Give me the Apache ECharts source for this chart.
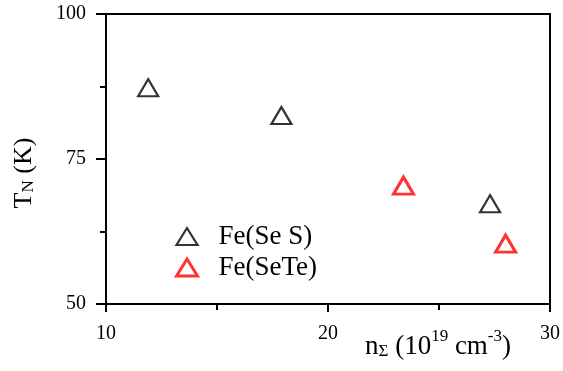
<!DOCTYPE html>
<html>
<head>
<meta charset="utf-8">
<script src="https://cdn.jsdelivr.net/npm/echarts@6/dist/echarts.min.js"></script>
<style>
  html, body { margin: 0; padding: 0; background: #fff; }
  #chart { width: 563px; height: 371px; }
</style>
</head>
<body>
<div id="chart"></div>
<script>
// Néel temperature versus carrier density
const seriesNames = ['Fe(Se S)', 'Fe(SeTe)'];
const feSeS_n = [11.9, 17.9, 27.3];
const feSeS_T = [87.3, 82.5, 67.3];
const feSeTe_n = [23.4, 28.0];
const feSeTe_T = [70.4, 60.4];
const xTicks = [10, 20, 30];
const yTicks = [50, 75, 100];

const font = 'Liberation Serif, Times New Roman, serif';
const ink = '#000';
const chart = echarts.init(document.getElementById('chart'));

function pairs(xs, ys) { return xs.map((x, i) => [x, ys[i]]); }

chart.setOption({
  animation: false,
  backgroundColor: '#fff',
  grid: {
    left: 106, right: 11, top: 14, bottom: 67,
    show: true, borderColor: ink, borderWidth: 2
  },
  legend: {
    orient: 'vertical',
    left: 170, top: 218,
    itemWidth: 21, itemHeight: 17,
    itemGap: 4,
    textStyle: { fontFamily: font, fontSize: 27, lineHeight: 27, color: ink, padding: [0, 0, 0, 16] },
    data: [
      { name: seriesNames[0], itemStyle: { color: '#fff', borderColor: '#000', borderWidth: 2.2 } },
      { name: seriesNames[1], itemStyle: { color: '#fff', borderColor: '#f00', borderWidth: 3 } }
    ]
  },
  xAxis: {
    type: 'value',
    min: xTicks[0], max: xTicks[xTicks.length - 1], interval: 10,
    axisLine: { show: true, lineStyle: { color: ink, width: 2 } },
    axisTick: { show: true, inside: false, length: 8, lineStyle: { color: ink, width: 2 } },
    minorTick: { show: true, splitNumber: 2, length: 6, lineStyle: { color: ink, width: 2 } },
    splitLine: { show: false },
    axisLabel: { fontFamily: font, fontSize: 20, color: ink, margin: 20 }
  },
  yAxis: {
    type: 'value',
    min: yTicks[0], max: yTicks[yTicks.length - 1], interval: 25,
    axisLine: { show: true, lineStyle: { color: ink, width: 2 } },
    axisTick: { show: true, inside: false, length: 10, lineStyle: { color: ink, width: 2 } },
    minorTick: { show: true, splitNumber: 2, length: 6, lineStyle: { color: ink, width: 2 } },
    splitLine: { show: false },
    axisLabel: { fontFamily: font, fontSize: 20, color: ink, margin: 20 }
  },
  graphic: [
    {
      // y-axis title, reads bottom to top
      type: 'text',
      x: 22, y: 173,
      rotation: Math.PI / 2,
      style: {
        text: '{t|T}{s|N}{t| (K)}',
        align: 'center',
        verticalAlign: 'middle',
        rich: {
          t: { fontFamily: font, fontSize: 26, fill: ink, lineHeight: 30, verticalAlign: 'bottom' },
          s: { fontFamily: font, fontSize: 17, fill: ink, padding: [11, 0, 0, 0], verticalAlign: 'bottom' }
        }
      }
    },
    {
      // x-axis title
      type: 'text',
      left: 365, top: 328,
      style: {
        text: '{t|n}{s|Σ}{t| (10}{p|19}{t| cm}{p|-3}{t|)}',
        rich: {
          t: { fontFamily: font, fontSize: 27, fill: ink, lineHeight: 32, verticalAlign: 'bottom' },
          s: { fontFamily: font, fontSize: 17, fill: ink, padding: [14, 0, 0, 0], verticalAlign: 'bottom' },
          p: { fontFamily: font, fontSize: 17, fill: ink, padding: [0, 0, 15, 0], verticalAlign: 'bottom' }
        }
      }
    }
  ],
  series: [
    {
      name: seriesNames[0],
      type: 'scatter',
      symbol: 'triangle',
      symbolSize: [20, 17],
      itemStyle: { color: '#fff', borderColor: '#000', borderWidth: 2.2 },
      data: pairs(feSeS_n, feSeS_T)
    },
    {
      name: seriesNames[1],
      type: 'scatter',
      symbol: 'triangle',
      symbolSize: [20, 17],
      itemStyle: { color: '#fff', borderColor: '#f00', borderWidth: 3 },
      data: pairs(feSeTe_n, feSeTe_T)
    }
  ]
});
</script>
</body>
</html>
